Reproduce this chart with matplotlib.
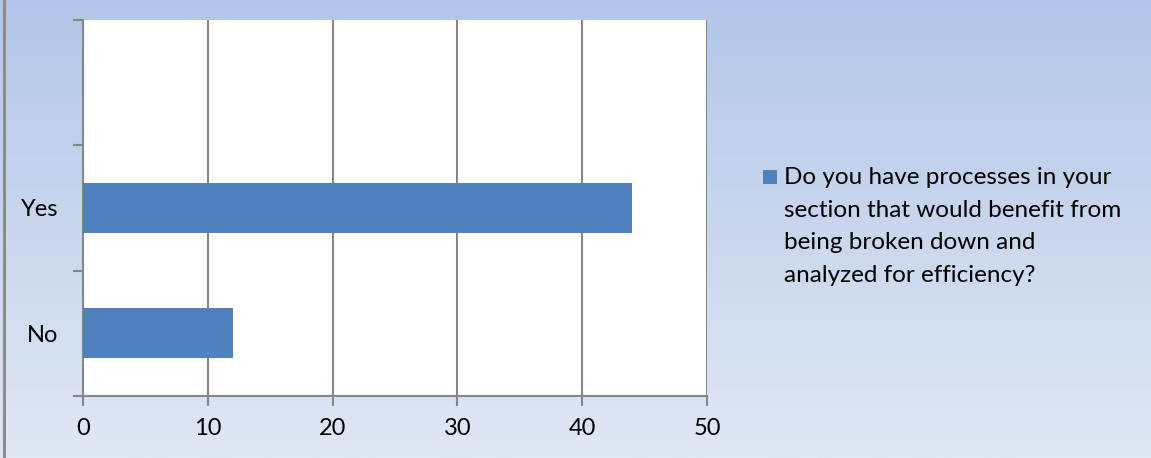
import numpy as np
import matplotlib
matplotlib.use('Agg')
import matplotlib.pyplot as plt
from matplotlib.patches import Rectangle
from matplotlib.lines import Line2D

plt.rcParams['font.family'] = ['Lato', 'DejaVu Sans']

# data
categories = ['No', 'Yes', '']
values = [12, 44, 0]
legend_label = 'Do you have processes in your\nsection that would benefit from\nbeing broken down and\nanalyzed for efficiency?'

BAR_COLOR = '#4f81bd'
GRID_COLOR = '#868686'

fig = plt.figure(figsize=(11.51, 4.58), dpi=100)

# gradient background
bg = fig.add_axes([0, 0, 1, 1], zorder=-10)
grad = np.linspace(0, 1, 256).reshape(-1, 1)
top = np.array([0xb3, 0xc6, 0xe8]) / 255
bot = np.array([0xdf, 0xe7, 0xf4]) / 255
img = top[None, None, :] * (1 - grad[:, :, None]) + bot[None, None, :] * grad[:, :, None]
bg.imshow(img, aspect='auto', extent=[0, 1, 0, 1])
bg.set_axis_off()
fig.add_artist(Line2D([3.5 / 1151, 3.5 / 1151], [0, 1], color='#8c8c8c', lw=2.2, transform=fig.transFigure))

ax = fig.add_axes([83 / 1151, 62 / 458, 624 / 1151, 376 / 458])
ax.set_facecolor('white')
y = np.arange(len(categories))
ax.barh(y, values, height=0.4, color=BAR_COLOR, zorder=3)

ax.set_xlim(0, 50)
ax.set_ylim(-0.5, len(categories) - 0.5)
ax.set_xticks(np.arange(0, 51, 10))
ax.set_yticks(np.arange(-0.5, len(categories), 1))
ax.set_yticklabels([])
ax.set_yticks(y[:2], categories[:2], minor=True)
ax.tick_params(axis='y', which='minor', length=0, pad=18, labelsize=17)
ax.tick_params(axis='y', which='major', length=7, width=1.5, color=GRID_COLOR, direction='out')
ax.tick_params(axis='x', length=7, width=1.5, color=GRID_COLOR, labelsize=17, pad=9)
ax.grid(axis='x', color=GRID_COLOR, lw=1.5, zorder=0)
ax.set_axisbelow(True)
for s in ['top', 'right']:
    ax.spines[s].set_visible(False)
for s in ['left', 'bottom']:
    ax.spines[s].set_color(GRID_COLOR)
    ax.spines[s].set_linewidth(1.5)

# legend
fig.add_artist(Rectangle((763 / 1151, (458 - 184) / 458), 14 / 1151, 14 / 458,
                         facecolor=BAR_COLOR, transform=fig.transFigure))
fig.text(784 / 1151, (458 - 167) / 458, legend_label, fontsize=17.5, va='top', ha='left',
         linespacing=1.68, color='black')

fig.savefig('out.png', dpi=100)
